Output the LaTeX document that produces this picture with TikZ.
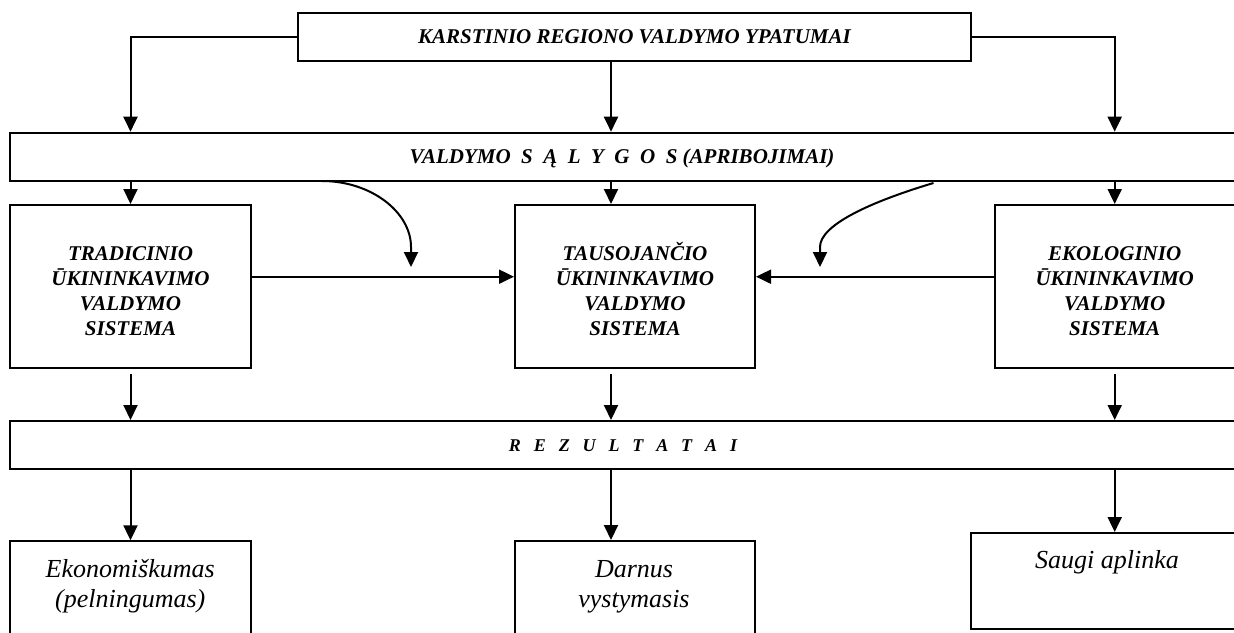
\documentclass[tikz,border=0pt]{standalone}
\usepackage{fontspec}
\setmainfont{Liberation Serif}
\usetikzlibrary{arrows.meta}
\newcommand\lsp{\hspace{10.5pt}}
\newcommand\rsp{\hspace{12.9pt}}
\begin{document}
\begin{tikzpicture}[x=1pt,y=-1pt,
  box/.style={draw, line width=2pt, rectangle, inner sep=0pt},
  arr/.style={line width=2pt, -{Triangle[length=15pt,width=14pt]}},
  hd/.style={inner sep=0pt, font=\fontsize{21}{25}\selectfont\bfseries\itshape},
  sys/.style={inner sep=0pt, align=center, anchor=north, font=\fontsize{21}{25}\selectfont\bfseries\itshape},
  res/.style={inner sep=0pt, align=center, anchor=north, font=\fontsize{26}{30}\selectfont\itshape}]
\useasboundingbox (0,0) rectangle (1234,632);
\clip (0,0) rectangle (1234,632);
% boxes
\node[box, minimum width=673.3pt, minimum height=47.7pt] (top) at (634.65,37.15) {};
\node[box, minimum width=1234.7pt, minimum height=48.3pt] (V) at (627.65,156.85) {};
\node[box, minimum width=240.4pt, minimum height=162.7pt] (trad) at (130.5,286.35) {};
\node[box, minimum width=240pt, minimum height=162.7pt] (taus) at (635,286.35) {};
\node[box, minimum width=240pt, minimum height=162.7pt] (eko) at (1114.7,286.35) {};
\node[box, minimum width=1234.7pt, minimum height=48.3pt] (R) at (627.65,445.15) {};
\node[box, minimum width=240.4pt, minimum height=118.7pt] (ekon) at (130.5,600.65) {};
\node[box, minimum width=240pt, minimum height=119pt] (darn) at (635,600.5) {};
\node[box, minimum width=279.3pt, minimum height=95.7pt] (saugi) at (1110.35,580.85) {};
% texts
\node[hd, anchor=base] (topT) at (634.5,43.3) {KARSTINIO REGIONO VALDYMO YPATUMAI};
\node[hd, anchor=base] (VT) at (622,163) {VALDYMO\lsp S\lsp Ą\lsp L\lsp Y\lsp G\lsp O\lsp S (APRIBOJIMAI)};
\node[hd, anchor=base, font=\fontsize{18}{22}\selectfont\bfseries\itshape] (RT) at (623,451) {R\rsp E\rsp Z\rsp U\rsp L\rsp T\rsp A\rsp T\rsp A\rsp I};
\node[sys] (tradT) at (130.5,241) {\rule{0pt}{19pt}TRADICINIO\\ŪKININKAVIMO\\VALDYMO\\SISTEMA};
\node[sys] (tausT) at (635,241) {\rule{0pt}{19pt}TAUSOJANČIO\\ŪKININKAVIMO\\VALDYMO\\SISTEMA};
\node[sys] (ekoT) at (1114.7,241) {\rule{0pt}{19pt}EKOLOGINIO\\ŪKININKAVIMO\\VALDYMO\\SISTEMA};
\node[res] (ekonT) at (130.2,556) {\rule{0pt}{21pt}Ekonomiškumas\\(pelningumas)};
\node[res] (darnT) at (634,556) {\rule{0pt}{21pt}Darnus\\vystymasis};
\node[res] (saugiT) at (1107,547.7) {\rule{0pt}{21pt}Saugi aplinka};
% helper coordinates
\coordinate (mx) at (611,0);
\coordinate (hy) at (0,276.7);
% connectors
\draw[arr] (top.west) -| (V.north -| trad.north);
\draw[arr] (top.east) -| (V.north -| eko.north);
\draw[arr] (top.south -| mx) -- (V.north -| mx);
\draw[arr] (V.south -| trad.south) -- (trad.north);
\draw[arr] (V.south -| mx) -- (taus.north -| mx);
\draw[arr] (V.south -| eko.south) -- (eko.north);
\draw[arr] (trad.east |- hy) -- (taus.west |- hy);
\draw[arr] (eko.west |- hy) -- (taus.east |- hy);
\draw[arr, shorten <=5pt] (trad.south) -- (R.north -| trad.south);
\draw[arr, shorten <=5pt] (taus.south -| mx) -- (R.north -| mx);
\draw[arr, shorten <=5pt] (eko.south) -- (R.north -| eko.south);
\draw[arr] (R.south -| trad.south) -- (ekon.north);
\draw[arr] (R.south -| mx) -- (darn.north -| mx);
\draw[arr] (R.south -| eko.south) -- (saugi.north -| eko.south);
% curved arrows
\coordinate (cA) at (322,181);
\coordinate (cAe) at (411,267);
\draw[arr] (cA) .. controls (371,181) and (411,212) .. (411,247) -- (cAe);
\coordinate (cB) at (933.5,183);
\coordinate (cBe) at (820,267);
\draw[arr] (cB) .. controls (870,202) and (820,225) .. (820,247) -- (cBe);
\end{tikzpicture}
\end{document}
